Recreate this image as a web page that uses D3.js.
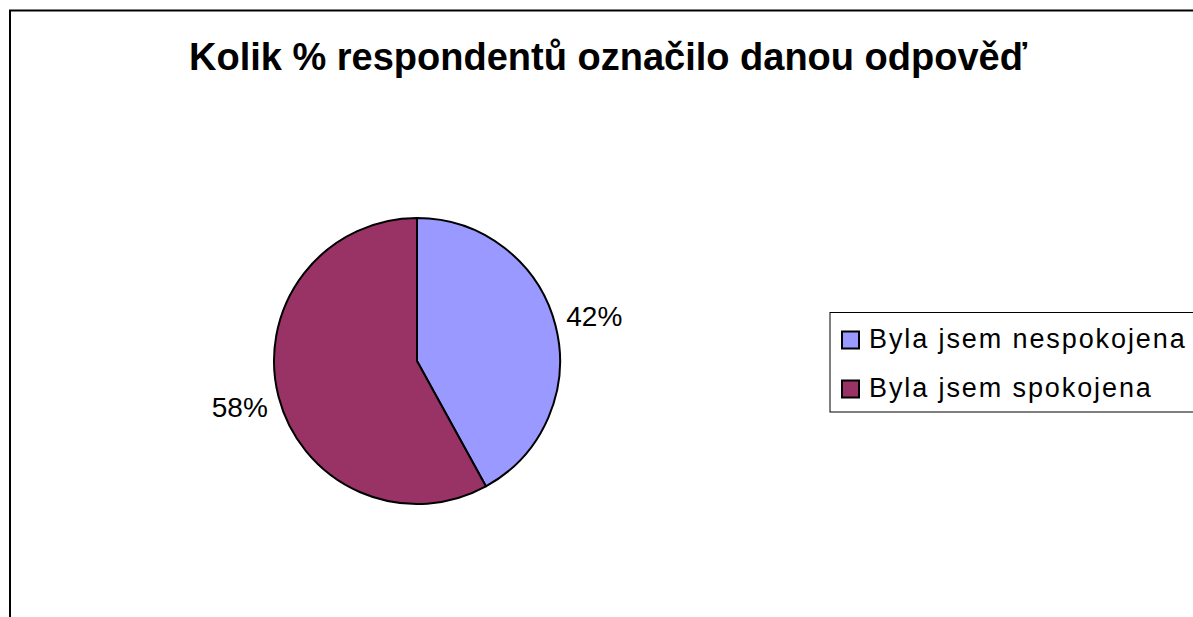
<!DOCTYPE html>
<html>
<head>
<meta charset="utf-8">
<script src="https://cdn.jsdelivr.net/npm/d3@7"></script>
<style>
  body { margin: 0; background: #fff; }
  text { font-family: "Liberation Sans", Arial, sans-serif; }
</style>
</head>
<body>
<div id="chart"></div>
<script>
// data
var categories = ["Byla jsem nespokojena", "Byla jsem spokojena"];
var values = [42, 58];
var labels = ["42%", "58%"];
var colors = ["#9999FF", "#993366"];

var width = 1193;
var height = 617;

var svg = d3.select("#chart")
  .append("svg")
  .attr("width", width)
  .attr("height", height);

// outer frame (runs off to the right and bottom)
svg.append("rect")
  .attr("x", 10)
  .attr("y", 10.5)
  .attr("width", width + 20)
  .attr("height", height + 20)
  .attr("fill", "#fff")
  .attr("stroke", "#000")
  .attr("stroke-width", 2);

// title
svg.append("text")
  .attr("x", 608)
  .attr("y", 70)
  .attr("text-anchor", "middle")
  .attr("font-size", 38)
  .attr("font-weight", "bold")
  .text("Kolik % respondentů označilo danou odpověď");

// pie
var cx = 417, cy = 361, radius = 143;
var pie = d3.pie().sort(null).value(function(d) { return d; });
var arc = d3.arc().innerRadius(0).outerRadius(radius);
var labelArc = d3.arc().innerRadius(radius + 40).outerRadius(radius + 40);

var g = svg.append("g").attr("transform", "translate(" + cx + "," + cy + ")");
var arcs = pie(values);

g.selectAll("path")
  .data(arcs)
  .enter()
  .append("path")
  .attr("d", arc)
  .attr("fill", function(d, i) { return colors[i]; })
  .attr("stroke", "#000")
  .attr("stroke-width", 2)
  .attr("stroke-linejoin", "round");

g.selectAll("text.pct")
  .data(arcs)
  .enter()
  .append("text")
  .attr("class", "pct")
  .attr("transform", function(d) { return "translate(" + labelArc.centroid(d) + ")"; })
  .attr("text-anchor", "middle")
  .attr("dy", "0.36em")
  .attr("font-size", 28)
  .text(function(d, i) { return labels[i]; });

// legend
var legend = svg.append("g").attr("transform", "translate(830,312.5)");
legend.append("rect")
  .attr("x", 0)
  .attr("y", 0)
  .attr("width", 420)
  .attr("height", 99.5)
  .attr("fill", "#fff")
  .attr("stroke", "#000")
  .attr("stroke-width", 1);

var item = legend.selectAll("g.item")
  .data(categories)
  .enter()
  .append("g")
  .attr("class", "item")
  .attr("transform", function(d, i) { return "translate(12," + (19 + i * 49) + ")"; });

item.append("rect")
  .attr("width", 17)
  .attr("height", 17)
  .attr("fill", function(d, i) { return colors[i]; })
  .attr("stroke", "#000")
  .attr("stroke-width", 2);

item.append("text")
  .attr("x", 27)
  .attr("y", 16)
  .attr("font-size", 27)
  .attr("letter-spacing", 1.9)
  .text(function(d) { return d; });
</script>
</body>
</html>
